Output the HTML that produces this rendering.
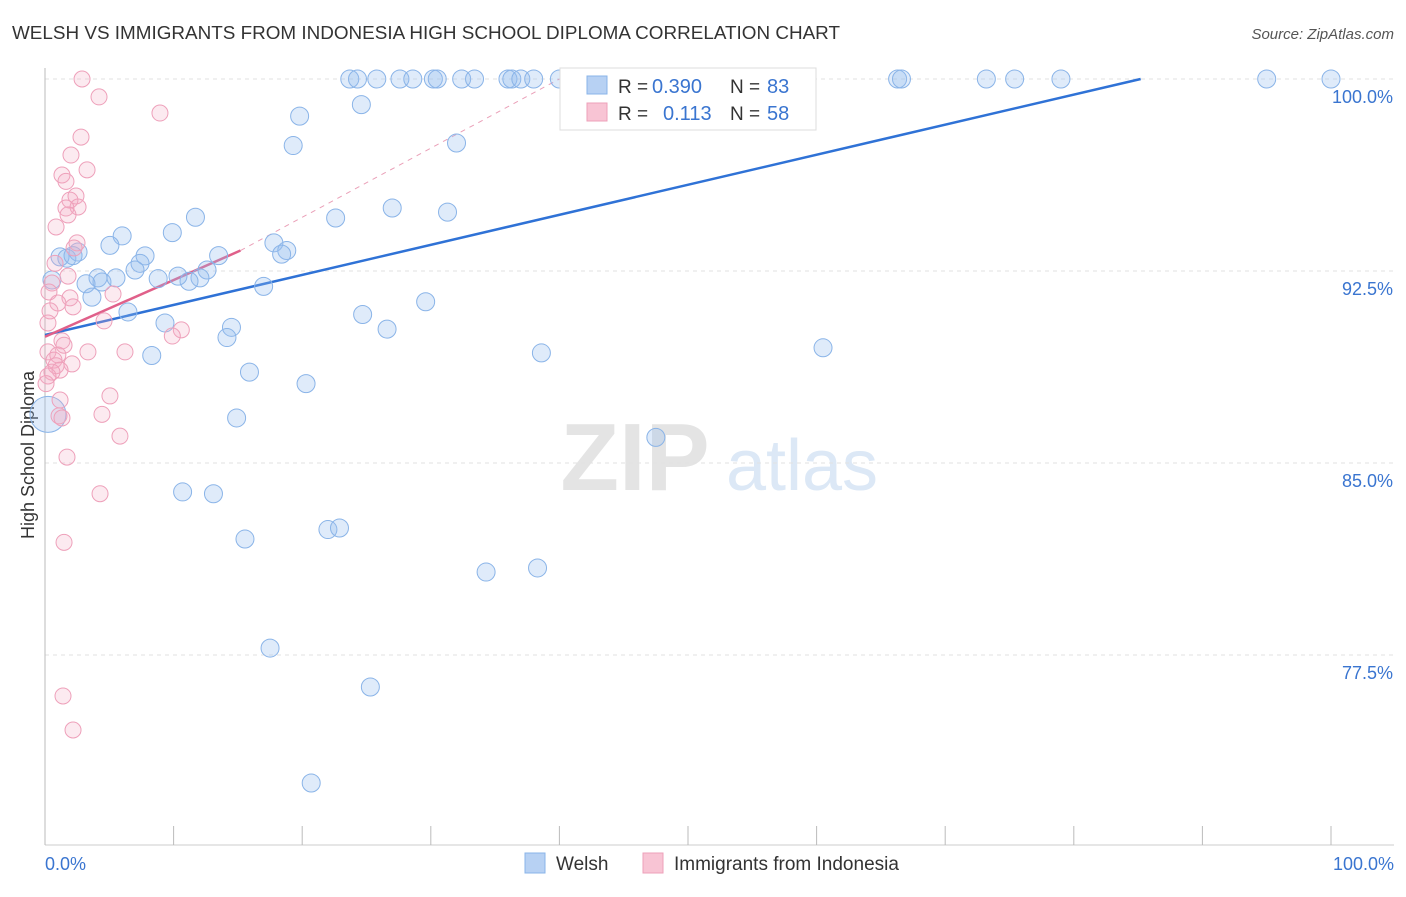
<!DOCTYPE html>
<html><head><meta charset="utf-8"><style>
body{margin:0;background:#fff;font-family:"Liberation Sans",sans-serif;}
svg text{font-family:"Liberation Sans",sans-serif;}
</style></head><body>
<svg id="chart" width="1406" height="892" xmlns="http://www.w3.org/2000/svg">
<text x="12" y="39" font-size="18" fill="#333" textLength="828" lengthAdjust="spacingAndGlyphs">WELSH VS IMMIGRANTS FROM INDONESIA HIGH SCHOOL DIPLOMA CORRELATION CHART</text>
<text x="1394" y="39" font-size="15" fill="#555" text-anchor="end" font-style="italic">Source: ZipAtlas.com</text>
<text x="34" y="455" font-size="18" fill="#333" text-anchor="middle" transform="rotate(-90 34 455)">High School Diploma</text>
<g><text x="635" y="490" font-size="96" fill="#e4e4e4" text-anchor="middle" font-family="Liberation Serif" font-weight="bold">ZIP</text><text x="802" y="490" font-size="72" fill="#dce8f6" text-anchor="middle">atlas</text></g>
<g id="grid"></g><g id="axes"></g><g id="lines"></g><g id="pts"></g>
<g>
<rect x="560" y="68" width="256" height="62" fill="#fff" stroke="#ddd"/>
<rect x="587" y="76" width="20" height="18" fill="#b7d1f3" stroke="#8ab4e8"/>
<text x="618" y="93" font-size="19" fill="#333">R =</text>
<text x="652" y="93" font-size="20" fill="#3a75d0">0.390</text>
<text x="730" y="93" font-size="19" fill="#333">N =</text>
<text x="767" y="93" font-size="20" fill="#3a75d0">83</text>
<rect x="587" y="103" width="20" height="18" fill="#f8c4d4" stroke="#eea0ba"/>
<text x="618" y="120" font-size="19" fill="#333">R =</text>
<text x="663" y="120" font-size="20" fill="#3a75d0">0.113</text>
<text x="730" y="120" font-size="19" fill="#333">N =</text>
<text x="767" y="120" font-size="20" fill="#3a75d0">58</text>
</g>
<g>
<rect x="525" y="853" width="20" height="20" fill="#b7d1f3" stroke="#8ab4e8"/>
<text x="556" y="870" font-size="19" fill="#333">Welsh</text>
<rect x="643" y="853" width="20" height="20" fill="#f8c4d4" stroke="#eea0ba"/>
<text x="674" y="870" font-size="19" fill="#333">Immigrants from Indonesia</text>
</g>
</svg>
<script>
const yTicks=[100,92.5,85,77.5];
const yTickLabels=["100.0%","92.5%","85.0%","77.5%"];
const xTickLabels=["0.0%","100.0%"];
const welshX=[23.7,24.3,25.8,27.6,28.6,30.2,30.5,32.4,33.4,36.0,36.3,37.0,38.0,40.0,41.2,45.6,54.1,66.3,66.6,73.2,75.4,79.0,95.0,100,24.6,19.8,19.3,32.0,27.0,31.3,22.6,11.7,9.9,6.0,5.05,1.17,1.7,2.57,2.18,7.78,7.39,7.0,13.5,17.8,18.8,18.4,12.6,12.05,11.2,10.34,8.8,4.12,4.43,5.52,3.19,3.65,17.0,0.54,29.6,24.7,6.45,9.33,14.5,14.15,26.6,8.3,38.6,60.5,15.9,20.3,14.9,47.5,10.7,13.1,15.55,22.0,22.9,34.3,38.3,17.5,25.3,20.7,0.23];
const welshY=[100,100,100,100,100,100,100,100,100,100,100,100,100,100,100,100,100,100,100,100,100,100,100,100,99.0,98.55,97.4,97.5,94.96,94.8,94.57,94.6,94.0,93.87,93.5,93.05,93.0,93.24,93.1,93.09,92.8,92.54,93.1,93.6,93.3,93.16,92.54,92.23,92.1,92.3,92.2,92.23,92.07,92.23,92.0,91.48,91.9,92.15,91.3,90.8,90.9,90.47,90.3,89.9,90.23,89.2,89.3,89.5,88.55,88.1,86.76,86.0,83.87,83.8,82.03,82.4,82.46,80.74,80.9,77.77,76.25,72.5,86.9];
const indoX=[2.88,4.2,8.94,2.8,2.02,3.27,1.32,1.63,2.41,1.94,2.57,1.63,1.79,0.86,2.49,2.26,0.78,1.79,0.54,0.31,1.94,1.0,2.18,0.39,0.23,4.59,10.6,9.9,5.29,1.32,1.48,0.23,1.0,3.34,6.22,0.7,0.86,2.1,1.17,0.54,0.23,5.05,1.17,4.43,1.09,1.32,5.83,1.71,4.28,1.48,1.4,2.18,0.08];
const indoY=[100,99.3,98.67,97.73,97.03,96.45,96.25,96.0,95.43,95.27,95.0,94.96,94.69,94.22,93.6,93.4,92.8,92.3,92.03,91.68,91.45,91.25,91.1,90.94,90.47,90.55,90.2,89.96,91.6,89.77,89.6,89.34,89.22,89.34,89.34,89.02,88.8,88.87,88.63,88.55,88.4,87.62,87.46,86.9,86.84,86.76,86.05,85.23,83.8,81.9,75.9,74.57,88.1];
const welshTrend=[[0,90.0],[85.2,100]];
const indoTrend=[[0,89.93],[15.2,93.3]];
const indoDash=[[15.2,93.3],[40,100]];
const NS="http://www.w3.org/2000/svg";
const sx=v=>45+v*12.86, sy=v=>79+(100-v)*25.6;
function mk(t,a,p){const e=document.createElementNS(NS,t);for(const k in a)e.setAttribute(k,a[k]);document.getElementById(p).appendChild(e);return e;}
yTicks.forEach((t,i)=>{
 const g=mk('line',{x1:45,x2:1394,y1:sy(t),y2:sy(t),stroke:'#e2e2e2','stroke-dasharray':'4,4'},'grid');
 
 
 const l=mk('text',{x:1393,y:sy(t)+24,'font-size':18,fill:'#3a75d0','text-anchor':'end'},'axes');l.textContent=yTickLabels[i];
 
 
});
mk('line',{x1:45,x2:45,y1:68,y2:845,stroke:'#bbb'},'axes');
mk('line',{x1:45,x2:1394,y1:845,y2:845,stroke:'#ccc'},'axes');
for(let i=0;i<=10;i++){const t=mk('line',{x1:sx(i*10),x2:sx(i*10),y1:826,y2:845,stroke:'#bbb'},'axes');
 
 }
[[0,'start',45],[1,'end',1394]].forEach(([i,a,x])=>{const l=mk('text',{x:x,y:870,'font-size':18,fill:'#3a75d0','text-anchor':a},'axes');l.textContent=xTickLabels[i];
 
 });
welshX.forEach((x,i)=>{const c=mk('circle',{cx:sx(x),cy:sy(welshY[i]),r:i==welshX.length-1?18:9,fill:'rgba(150,190,240,0.3)',stroke:'#8ab4e8','stroke-width':1},'pts');
 
 });
indoX.forEach((x,i)=>{const c=mk('circle',{cx:sx(x),cy:sy(indoY[i]),r:8,fill:'rgba(245,170,195,0.25)',stroke:'#eea0ba','stroke-width':1},'pts');
 
 });
const wl=mk('line',{x1:sx(welshTrend[0][0]),y1:sy(welshTrend[0][1]),x2:sx(welshTrend[1][0]),y2:sy(welshTrend[1][1]),stroke:'#2f72d6','stroke-width':2.5},'lines');


const il=mk('line',{x1:sx(indoTrend[0][0]),y1:sy(indoTrend[0][1]),x2:sx(indoTrend[1][0]),y2:sy(indoTrend[1][1]),stroke:'#e0608a','stroke-width':2.5},'lines');


const dl=mk('line',{x1:sx(indoDash[0][0]),y1:sy(indoDash[0][1]),x2:sx(indoDash[1][0]),y2:sy(indoDash[1][1]),stroke:'#eaa0b8','stroke-width':1,'stroke-dasharray':'5,5'},'lines');


</script>
</body></html>
